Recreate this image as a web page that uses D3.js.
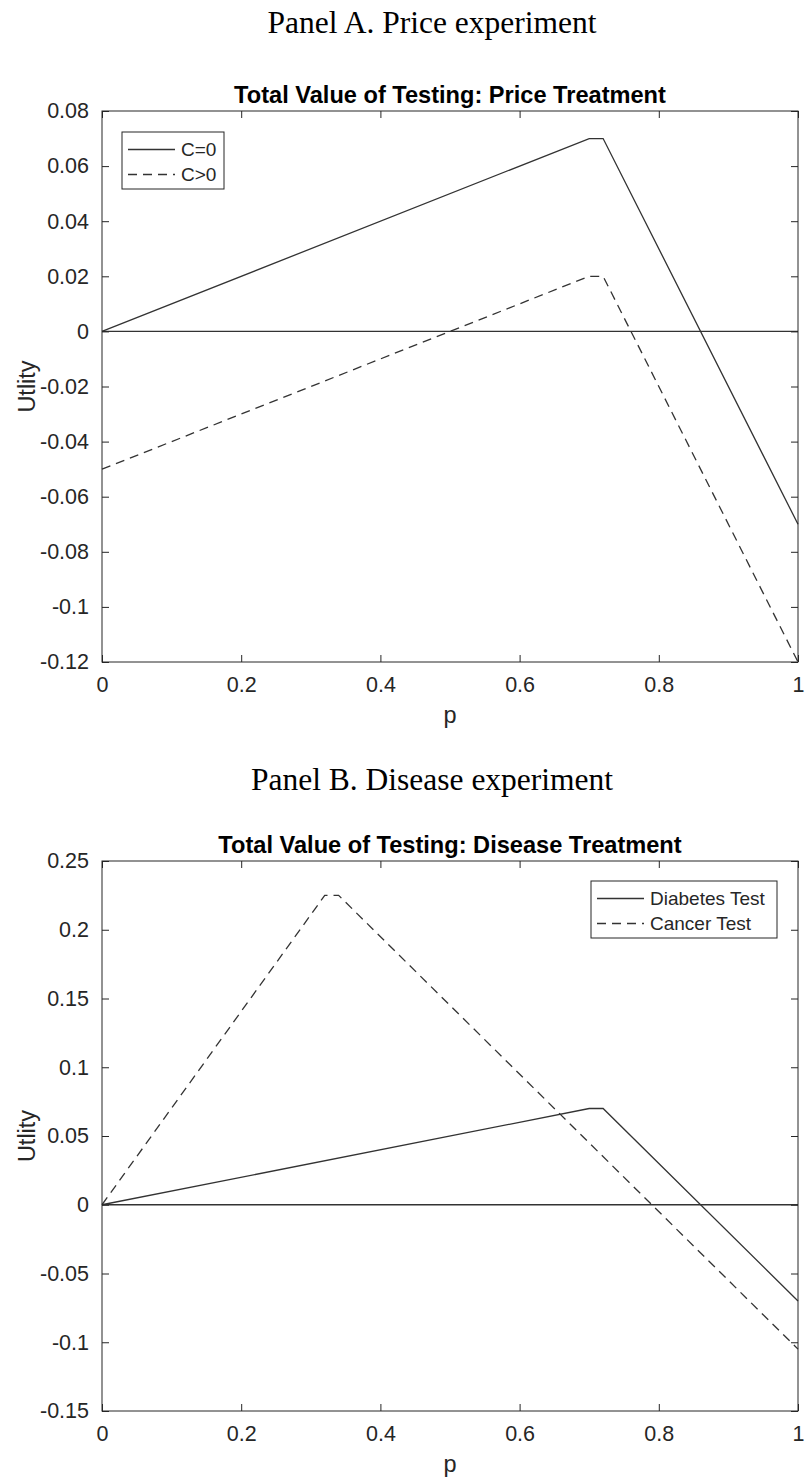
<!DOCTYPE html>
<html>
<head>
<meta charset="utf-8">
<script src="https://cdn.jsdelivr.net/npm/d3@7"></script>
<style>
  body { margin: 0; background: #fff; }
  svg text { font-family: "Liberation Sans", Arial, sans-serif; }
</style>
</head>
<body>
<div id="chart"></div>
<script>
// data
const xTicks = [0, 0.2, 0.4, 0.6, 0.8, 1];

// Panel A
const pA = [0, 0.70, 0.72, 1];
const utilC0 = [0, 0.07, 0.07, -0.07];
const utilCpos = [-0.05, 0.02, 0.02, -0.12];
const yTicksA = [-0.12, -0.1, -0.08, -0.06, -0.04, -0.02, 0, 0.02, 0.04, 0.06, 0.08];

// Panel B
const pDiabetes = [0, 0.70, 0.72, 1];
const utilDiabetes = [0, 0.07, 0.07, -0.07];
const pCancer = [0, 0.32, 0.34, 1];
const utilCancer = [0, 0.225, 0.225, -0.105];
const yTicksB = [-0.15, -0.1, -0.05, 0, 0.05, 0.1, 0.15, 0.2, 0.25];

const zeroP = [0, 1];
const zeroU = [0, 0];

const W = 807, H = 1477;
const svg = d3.select("#chart").append("svg")
    .attr("width", W)
    .attr("height", H);

const axCol = "#262626";
const dash = "9,6";

function fmt(v) {
    if (v === 0) return "0";
    if (v === 1) return "1";
    return String(+v.toFixed(2));
}

function panel(cfg) {
    const left = 102, right = 798;
    const x = d3.scaleLinear().domain([0, 1]).range([left, right]);
    const y = d3.scaleLinear().domain(cfg.yDomain).range([cfg.bottom, cfg.top]);

    // panel header (serif, like the paper)
    svg.append("text")
        .attr("x", 432)
        .attr("y", cfg.headY)
        .attr("text-anchor", "middle")
        .style("font-family", "'Liberation Serif', 'Times New Roman', serif")
        .style("font-size", "31.5px")
        .attr("fill", "#000")
        .text(cfg.header);

    // title
    svg.append("text")
        .attr("x", (left + right) / 2)
        .attr("y", cfg.top - 8)
        .attr("text-anchor", "middle")
        .style("font-size", "23.6px")
        .style("font-weight", "bold")
        .attr("fill", "#000")
        .text(cfg.title);

    const g = svg.append("g");

    // lines
    const line = d3.line().x(d => x(d[0])).y(d => y(d[1]));
    cfg.series.forEach(s => {
        g.append("path")
            .datum(s.p.map((p, i) => [p, s.u[i]]))
            .attr("d", line)
            .attr("fill", "none")
            .attr("stroke", "#333")
            .attr("stroke-width", 1.3)
            .attr("stroke-dasharray", s.dashed ? dash : null);
    });

    // axes (box with inward ticks on all sides)
    const tl = 7;
    g.append("g")
        .attr("transform", `translate(0,${cfg.bottom})`)
        .call(d3.axisBottom(x).tickValues(xTicks).tickSize(-tl).tickPadding(tl + 8).tickFormat(fmt))
        .call(a => a.select(".domain").remove());
    g.append("g")
        .attr("transform", `translate(0,${cfg.top})`)
        .call(d3.axisTop(x).tickValues(xTicks).tickSize(-tl).tickFormat(""))
        .call(a => a.select(".domain").remove());
    g.append("g")
        .attr("transform", `translate(${left},0)`)
        .call(d3.axisLeft(y).tickValues(cfg.yTicks).tickSize(-tl).tickPadding(tl + 6).tickFormat(fmt))
        .call(a => a.select(".domain").remove());
    g.append("g")
        .attr("transform", `translate(${right},0)`)
        .call(d3.axisRight(y).tickValues(cfg.yTicks).tickSize(-tl).tickFormat(""))
        .call(a => a.select(".domain").remove());

    g.selectAll(".tick line").attr("stroke", axCol);
    g.selectAll(".tick text")
        .attr("fill", axCol)
        .style("font-size", "21.5px");

    g.append("rect")
        .attr("x", left).attr("y", cfg.top)
        .attr("width", right - left).attr("height", cfg.bottom - cfg.top)
        .attr("fill", "none")
        .attr("stroke", axCol)
        .attr("stroke-width", 1);

    // axis labels
    svg.append("text")
        .attr("x", (left + right) / 2)
        .attr("y", cfg.bottom + 61)
        .attr("text-anchor", "middle")
        .style("font-size", "23.5px")
        .attr("fill", axCol)
        .text("p");
    svg.append("text")
        .attr("transform", `translate(35,${(cfg.top + cfg.bottom) / 2}) rotate(-90)`)
        .attr("text-anchor", "middle")
        .style("font-size", "23.5px")
        .attr("fill", axCol)
        .text("Utlity");

    // legend
    const lg = svg.append("g");
    lg.append("rect")
        .attr("x", cfg.legend.x).attr("y", cfg.legend.y)
        .attr("width", cfg.legend.w).attr("height", 57)
        .attr("fill", "#fff")
        .attr("stroke", "#262626")
        .attr("stroke-width", 1);
    cfg.series.filter(s => s.name).forEach((s, i) => {
        const yy = cfg.legend.y + 17.5 + i * 25;
        lg.append("line")
            .attr("x1", cfg.legend.x + 6).attr("x2", cfg.legend.x + 53)
            .attr("y1", yy).attr("y2", yy)
            .attr("stroke", "#333")
            .attr("stroke-width", 1.3)
            .attr("stroke-dasharray", s.dashed ? dash : null);
        lg.append("text")
            .attr("x", cfg.legend.x + 59)
            .attr("y", yy + 6.5)
            .style("font-size", "19px")
            .attr("fill", axCol)
            .text(s.name);
    });
}

panel({
    header: "Panel A. Price experiment",
    headY: 33,
    title: "Total Value of Testing: Price Treatment",
    top: 111, bottom: 662,
    yDomain: [-0.12, 0.08],
    yTicks: yTicksA,
    legend: {x: 122, y: 132, w: 102},
    series: [
        {name: "C=0", p: pA, u: utilC0, dashed: false},
        {name: "C>0", p: pA, u: utilCpos, dashed: true},
        {name: null, p: zeroP, u: zeroU, dashed: false}
    ]
});

panel({
    header: "Panel B. Disease experiment",
    headY: 790,
    title: "Total Value of Testing: Disease Treatment",
    top: 861, bottom: 1411,
    yDomain: [-0.15, 0.25],
    yTicks: yTicksB,
    legend: {x: 591, y: 881, w: 186},
    series: [
        {name: "Diabetes Test", p: pDiabetes, u: utilDiabetes, dashed: false},
        {name: "Cancer Test", p: pCancer, u: utilCancer, dashed: true},
        {name: null, p: zeroP, u: zeroU, dashed: false}
    ]
});
</script>
</body>
</html>
